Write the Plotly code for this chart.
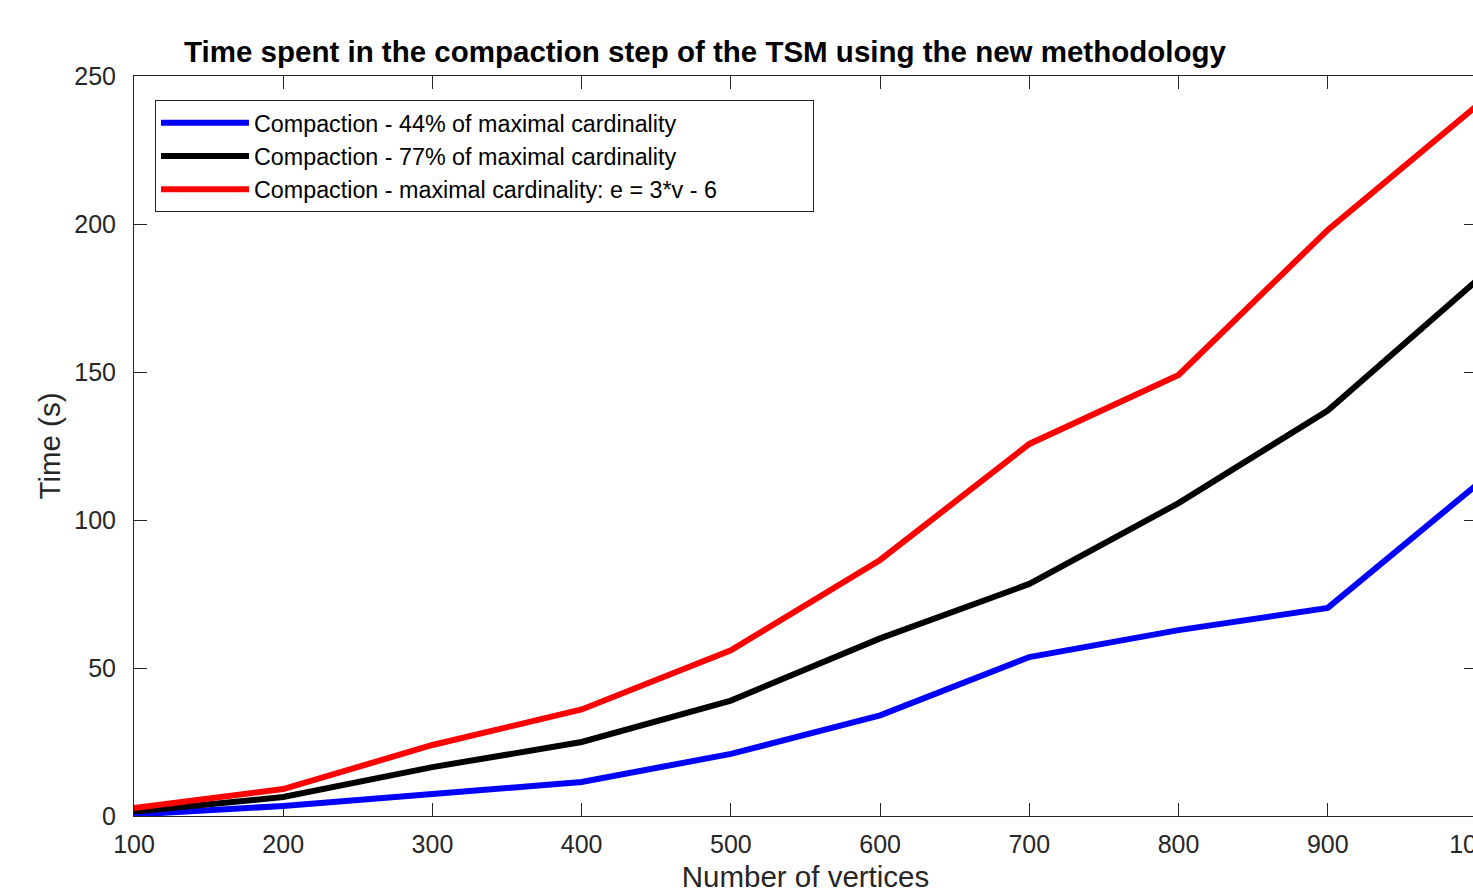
import plotly.graph_objects as go

vertices = [100, 200, 300, 400, 500, 600, 700, 800, 900, 1000]
time_44 = [0.5, 3.4, 7.4, 11.5, 21.0, 34.0, 53.7, 62.8, 70.3, 112.0]
time_77 = [1.5, 6.4, 16.5, 25.0, 39.0, 60.0, 78.4, 105.7, 137.0, 181.0]
time_max = [2.7, 9.1, 24.0, 36.0, 56.0, 86.5, 125.7, 149.0, 198.0, 240.0]

names = [
    "Compaction - 44% of maximal cardinality",
    "Compaction - 77% of maximal cardinality",
    "Compaction - maximal cardinality: e = 3*v - 6",
]
colors = ["#0000FF", "#000000", "#FF0000"]
x_ticks = [100, 200, 300, 400, 500, 600, 700, 800, 900, 1000]
y_ticks = [0, 50, 100, 150, 200, 250]

FONT = "Liberation Sans, Arial, Helvetica, sans-serif"
AX = "#262626"
LEGEND_PAD = "\u00a0" * 14  # MATLAB-style empty space at the right of the legend box

fig = go.Figure()
for i, (ys, nm, c) in enumerate(zip([time_44, time_77, time_max], names, colors)):
    label = nm + (LEGEND_PAD if i == 2 else "")
    fig.add_trace(go.Scatter(x=vertices, y=ys, mode="lines", name=label,
                             line=dict(color=c, width=6)))

W, H = 1477, 894
fig.update_layout(
    width=W, height=H,
    margin=dict(l=134, r=0, t=76, b=78),
    paper_bgcolor="white", plot_bgcolor="white",
    font=dict(family=FONT, size=25, color=AX),
    title=dict(text="<b>Time spent in the compaction step of the TSM using the new methodology</b>",
               x=705 / W, xanchor="center", xref="container",
               y=1 - 52 / H, yanchor="middle", yref="container",
               font=dict(family=FONT, size=29.5, color="black")),
    legend=dict(x=(155 - 134) / 1343, y=(816 - 100) / 740, xanchor="left", yanchor="top",
                bgcolor="white", bordercolor=AX, borderwidth=1,
                font=dict(family=FONT, size=23.3, color="black"),
                itemwidth=88, tracegroupgap=0),
    showlegend=True,
)
fig.update_xaxes(
    range=[100, 1000], tickvals=x_ticks, ticktext=[str(v) for v in x_ticks],
    showgrid=False, zeroline=False, showline=True, linecolor=AX, linewidth=1,
    mirror="ticks", ticks="inside", ticklen=13, tickcolor=AX, tickwidth=1,
    tickfont=dict(size=25, color=AX), ticklabelstandoff=6, ticklabeloverflow="allow",
    automargin=False,
    title=dict(text="Number of vertices", font=dict(size=29.5, color=AX), standoff=9),
)
fig.update_yaxes(
    range=[0, 250], tickvals=y_ticks, ticktext=[str(v) for v in y_ticks],
    showgrid=False, zeroline=False, showline=True, linecolor=AX, linewidth=1,
    mirror="ticks", ticks="inside", ticklen=13, tickcolor=AX, tickwidth=1,
    tickfont=dict(size=25, color=AX), ticklabelstandoff=12, automargin=False,
    title=dict(text="Time (s)", font=dict(size=29.5, color=AX), standoff=4),
)

fig.write_html(
    "out.html",
    config={"displayModeBar": False},
    post_script="document.body.style.margin='0';document.body.style.overflow='hidden';",
)
